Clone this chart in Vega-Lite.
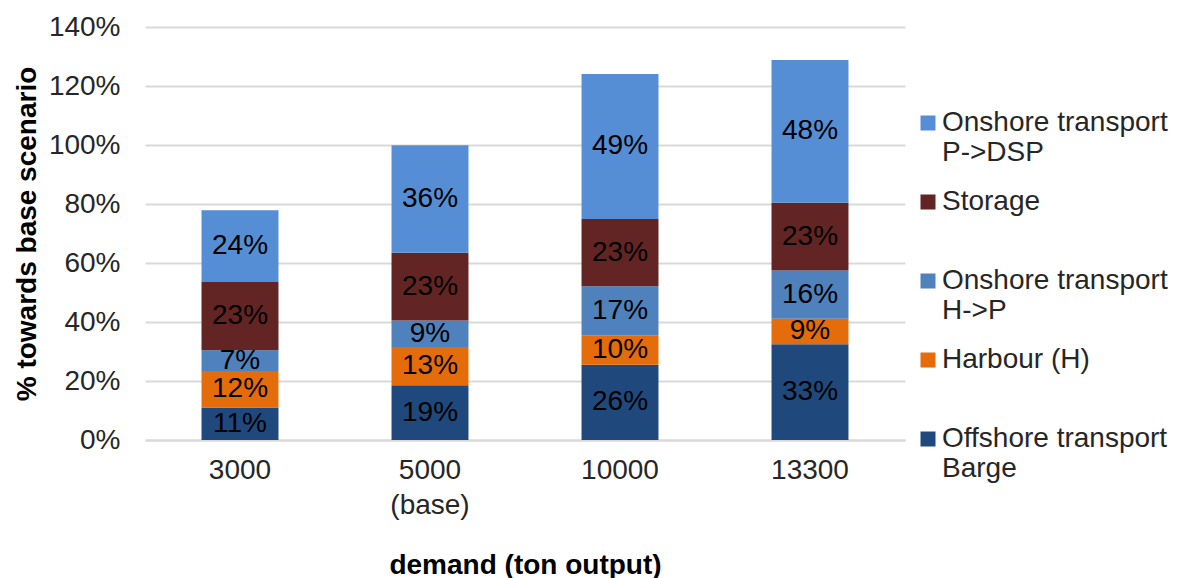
{
  "$schema": "https://vega.github.io/schema/vega-lite/v6.json",
  "autosize": {"type": "none"},
  "padding": {"left": 145, "top": 27, "right": 272, "bottom": 138},
  "width": 760,
  "height": 413,
  "background": "white",
  "config": {
    "font": "Liberation Sans",
    "view": {"stroke": null},
    "axis": {"labelFont": "Liberation Sans", "titleFont": "Liberation Sans"},
    "legend": {"labelFont": "Liberation Sans"}
  },
  "data": {
    "values": [
      {"demand": "3000", "component": "Offshore transport Barge", "rank": 1, "value": 0.11},
      {"demand": "3000", "component": "Harbour (H)", "rank": 2, "value": 0.124},
      {"demand": "3000", "component": "Onshore transport H->P", "rank": 3, "value": 0.07},
      {"demand": "3000", "component": "Storage", "rank": 4, "value": 0.232},
      {"demand": "3000", "component": "Onshore transport P->DSP", "rank": 5, "value": 0.243},
      {"demand": "5000 (base)", "component": "Offshore transport Barge", "rank": 1, "value": 0.186},
      {"demand": "5000 (base)", "component": "Harbour (H)", "rank": 2, "value": 0.129},
      {"demand": "5000 (base)", "component": "Onshore transport H->P", "rank": 3, "value": 0.09},
      {"demand": "5000 (base)", "component": "Storage", "rank": 4, "value": 0.23},
      {"demand": "5000 (base)", "component": "Onshore transport P->DSP", "rank": 5, "value": 0.364},
      {"demand": "10000", "component": "Offshore transport Barge", "rank": 1, "value": 0.255},
      {"demand": "10000", "component": "Harbour (H)", "rank": 2, "value": 0.1},
      {"demand": "10000", "component": "Onshore transport H->P", "rank": 3, "value": 0.166},
      {"demand": "10000", "component": "Storage", "rank": 4, "value": 0.228},
      {"demand": "10000", "component": "Onshore transport P->DSP", "rank": 5, "value": 0.492},
      {"demand": "13300", "component": "Offshore transport Barge", "rank": 1, "value": 0.325},
      {"demand": "13300", "component": "Harbour (H)", "rank": 2, "value": 0.086},
      {"demand": "13300", "component": "Onshore transport H->P", "rank": 3, "value": 0.164},
      {"demand": "13300", "component": "Storage", "rank": 4, "value": 0.229},
      {"demand": "13300", "component": "Onshore transport P->DSP", "rank": 5, "value": 0.484}
    ]
  },
  "encoding": {
    "x": {
      "field": "demand",
      "type": "nominal",
      "sort": ["3000", "5000 (base)", "10000", "13300"],
      "scale": {"paddingInner": 0.595, "paddingOuter": 0.2975},
      "axis": {
        "title": "demand (ton output)",
        "titleFontSize": 28,
        "titleFontWeight": "bold",
        "titleColor": "#000000",
        "titlePadding": 32,
        "labelAngle": 0,
        "labelFontSize": 28,
        "labelColor": "#262626",
        "labelLineHeight": 35,
        "labelPadding": 16,
        "labelExpr": "split(datum.label, ' ')",
        "ticks": false,
        "domainColor": "#d9d9d9",
        "domainWidth": 2
      }
    }
  },
  "layer": [
    {
      "mark": {"type": "bar"},
      "encoding": {
        "y": {
          "field": "value",
          "type": "quantitative",
          "stack": "zero",
          "scale": {"domain": [0, 1.4], "nice": false},
          "axis": {
            "title": "% towards base scenario",
            "titleFontSize": 28,
            "titleFontWeight": "bold",
            "titleColor": "#000000",
            "titlePadding": 7,
            "values": [0, 0.2, 0.4, 0.6, 0.8, 1.0, 1.2, 1.4],
            "format": ".0%",
            "labelFontSize": 28,
            "labelColor": "#262626",
            "labelPadding": 25,
            "ticks": false,
            "domain": false,
            "gridColor": "#d9d9d9",
            "gridWidth": 2
          }
        },
        "order": {"field": "rank", "type": "quantitative", "sort": "ascending"},
        "color": {
          "field": "component",
          "type": "nominal",
          "sort": ["Onshore transport P->DSP", "Storage", "Onshore transport H->P", "Harbour (H)", "Offshore transport Barge"],
          "scale": {"range": ["#558ED5", "#632523", "#4F81BD", "#E46C0A", "#1F497D"]},
          "legend": {
            "title": null,
            "orient": "none",
            "legendX": 769,
            "legendY": 82,
            "symbolType": "square",
            "symbolSize": 225,
            "symbolStrokeWidth": 0,
            "symbolOpacity": 1,
            "labelFontSize": 28,
            "labelColor": "#262626",
            "labelLineHeight": 32,
            "labelOffset": 0,
            "labelLimit": 400,
            "rowPadding": 21,
            "labelExpr": "datum.label == 'Onshore transport P->DSP' ? ['Onshore transport', 'P->DSP'] : datum.label == 'Onshore transport H->P' ? ['Onshore transport', 'H->P'] : datum.label == 'Offshore transport Barge' ? ['Offshore transport', 'Barge'] : [datum.label, '']"
          }
        }
      }
    },
    {
      "mark": {"type": "text", "fontSize": 28, "baseline": "middle", "align": "center", "color": "#000000"},
      "encoding": {
        "y": {"field": "value", "type": "quantitative", "stack": "zero", "bandPosition": 0.5},
        "order": {"field": "rank", "type": "quantitative", "sort": "ascending"},
        "detail": {"field": "component", "type": "nominal"},
        "text": {"field": "value", "type": "quantitative", "format": ".0%"}
      }
    }
  ]
}
